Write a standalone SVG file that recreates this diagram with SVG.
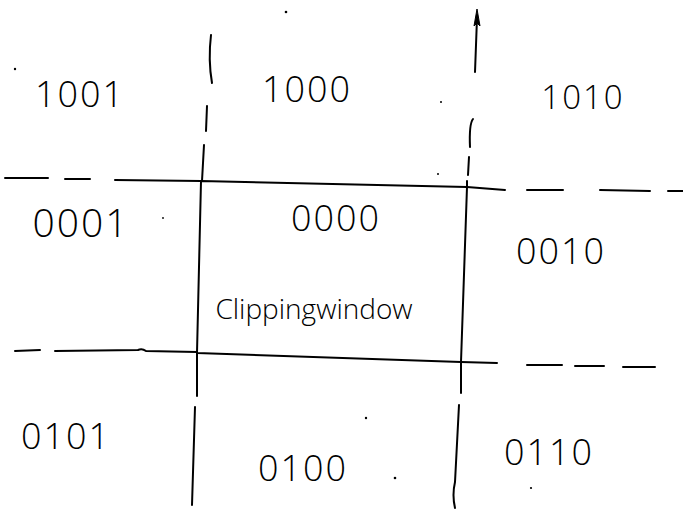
<svg xmlns="http://www.w3.org/2000/svg" width="683" height="529" viewBox="0 0 683 529">
<style>
.ln{fill:none;stroke:#000;stroke-width:2;stroke-linecap:round;stroke-linejoin:round}
.t{font-family:"Open Sans","Liberation Sans",Arial,sans-serif;font-weight:300;font-size:36px;letter-spacing:2px;fill:#000;text-anchor:middle}
.s{font-family:"Open Sans","Liberation Sans",Arial,sans-serif;font-weight:300;font-size:28px;fill:#000;text-anchor:middle}
.d{fill:#000}
.ah{fill:#000;stroke:#000;stroke-width:1;stroke-linejoin:round}
</style>
<rect width="683" height="529" fill="#fff"/>
<g id="connectors">
<!-- top horizontal boundary -->
<path class="ln" d="M5 178 L48 178"/>
<path class="ln" d="M65 179 L90 179"/>
<path class="ln" d="M115 180 L201 181"/>
<path class="ln" d="M467 187 L505 190"/>
<path class="ln" d="M527 190 L563 190"/>
<path class="ln" d="M600 190 L650 191"/>
<path class="ln" d="M668 191 L683 191"/>
<!-- bottom horizontal boundary -->
<path class="ln" d="M15 351 L40 350"/>
<path class="ln" d="M55 351 L138 350 Q142 348 146 351 L197 352"/>
<path class="ln" d="M461 362 L497 363"/>
<path class="ln" d="M527 365 L562 365"/>
<path class="ln" d="M575 366 L604 366"/>
<path class="ln" d="M623 367 L655 367"/>
<!-- left vertical boundary -->
<path class="ln" d="M211 35 Q208 60 212 83"/>
<path class="ln" d="M207 106 L206 131"/>
<path class="ln" d="M204 145 L202 181"/>
<path class="ln" d="M197 353 L197 396"/>
<path class="ln" d="M195 407 L192 505"/>
<!-- right vertical boundary -->
<path class="ln" d="M475 72 L477 18"/>
<path class="ah" d="M477 9 L480 26 L477 23 L474 26 Z"/>
<path class="ln" d="M473 119 Q469 124 470 147"/>
<path class="ln" d="M469 157 L468 175"/>
<path class="ln" d="M467 181 L467 187"/>
<path class="ln" d="M461 362 L461 393"/>
<path class="ln" d="M459 405 L455 482 Q452 495 455 508"/>
</g>
<g id="clipping-window">
<path class="ln" d="M201 181 L467 187 L461 362 L197 353 Z"/>
<text class="t" x="336" y="231">0000</text>
<text class="s" x="314" y="319">Clippingwindow</text>
</g>
<g id="region-1001"><text class="t" x="80" y="107">1001</text></g>
<g id="region-1000"><text class="t" x="307" y="102">1000</text></g>
<g id="region-1010"><text class="t" x="583" y="109" style="font-size:33px">1010</text></g>
<g id="region-0001"><text class="t" x="81" y="237" style="font-size:39px">0001</text></g>
<g id="region-0010"><text class="t" x="561" y="264">0010</text></g>
<g id="region-0101"><text class="t" x="66" y="449">0101</text></g>
<g id="region-0100"><text class="t" x="303" y="481">0100</text></g>
<g id="region-0110"><text class="t" x="549" y="465">0110</text></g>
<g id="specks">
<circle class="d" cx="15" cy="69" r="1.2"/>
<circle class="d" cx="286" cy="12" r="1.3"/>
<circle class="d" cx="441" cy="102" r="1"/>
<circle class="d" cx="438" cy="174" r="1"/>
<circle class="d" cx="163" cy="218" r="0.9"/>
<circle class="d" cx="366" cy="418" r="1.2"/>
<circle class="d" cx="395" cy="478" r="1.3"/>
<circle class="d" cx="531" cy="488" r="1.1"/>
</g>
</svg>
